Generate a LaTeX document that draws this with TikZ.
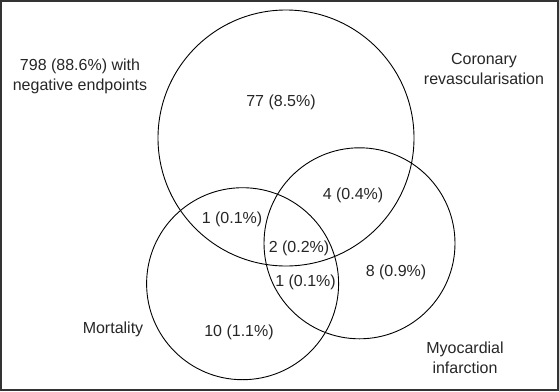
\documentclass[tikz,border=0pt]{standalone}
\usepackage{fontspec}
\setmainfont{Liberation Sans}
\begin{document}
\begin{tikzpicture}[x=1pt,y=-1pt,
  venn/.style={draw=black,line width=0.9pt},
  lbl/.style={font=\fontsize{16}{19.5}\selectfont,align=center,inner sep=0pt},
  every node/.style={text=black!85}]
\useasboundingbox (0,0) rectangle (559,391);
\draw[line width=2pt,draw=black!80] (1,1) rectangle (558,390);
\node[venn,circle,minimum size=256pt,inner sep=0pt] (cr) at (286,138) {};
\node[venn,circle,minimum size=192pt,inner sep=0pt] (mo) at (242.6,283.7) {};
\node[venn,circle,minimum size=191pt,inner sep=0pt] (mi) at (359.5,243.3) {};
\node[lbl] (neg) at (80,76.5) {798 (88.6\%) with\\negative endpoints};
\node[lbl] (crl) at (484,69) {Coronary\\revascularisation};
\node[lbl] (mol) at (113,329) {Mortality};
\node[lbl] (mil) at (465,358) {Myocardial\\infarction};
\node[lbl] (a) at (281,102) {77 (8.5\%)};
\node[lbl] (b) at (353,195) {4 (0.4\%)};
\node[lbl] (c) at (232,219) {1 (0.1\%)};
\node[lbl] (d) at (299,248) {2 (0.2\%)};
\node[lbl] (e) at (305.5,282) {1 (0.1\%)};
\node[lbl] (f) at (396,272) {8 (0.9\%)};
\node[lbl] (g) at (239,332) {10 (1.1\%)};
\end{tikzpicture}
\end{document}
